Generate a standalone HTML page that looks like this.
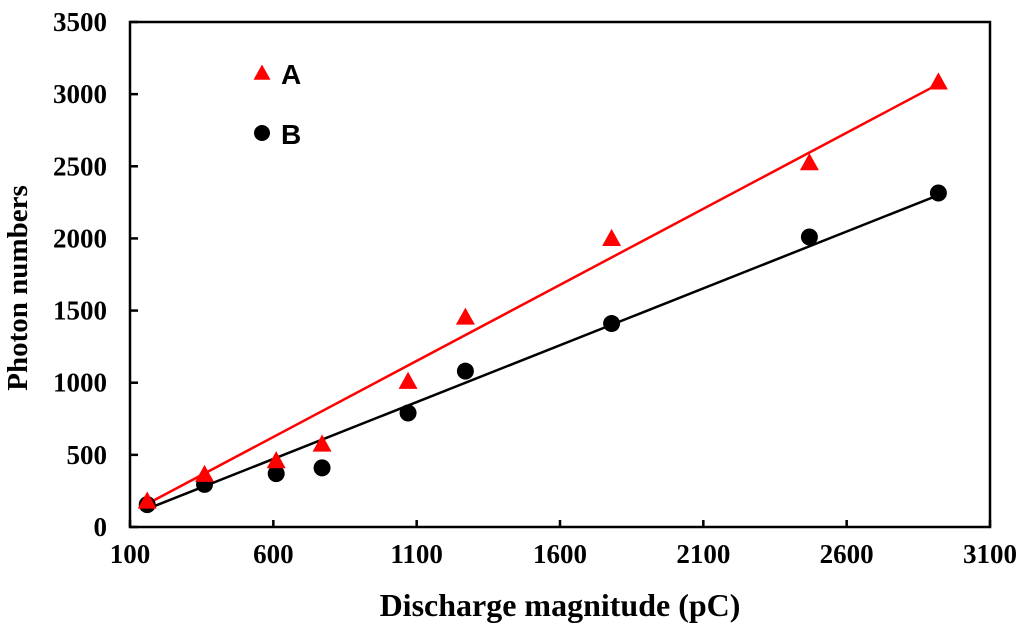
<!DOCTYPE html>
<html><head><meta charset="utf-8"><style>
body{margin:0;background:#fff;}
svg text{font-family:"Liberation Serif",serif;font-weight:bold;}
</style></head><body>
<svg id="chart" width="1024" height="627" xmlns="http://www.w3.org/2000/svg"></svg>
<script>
const xValsA=[160,360,610,770,1070,1270,1780,2470,2920];
const seriesA=[180,365,460,575,1010,1455,2000,2525,3085];
const xValsB=[160,360,610,770,1070,1270,1780,2470,2920];
const seriesB=[155,295,370,410,790,1080,1410,2010,2315];
const fitX=[160,2920];
const fitA=[160,3070];
const fitB=[125,2300];
const xTicks=[100,600,1100,1600,2100,2600,3100];
const yTicks=[0,500,1000,1500,2000,2500,3000,3500];

const L=130,R=990,T=22,B=527;
const xs=v=>L+(v-100)/3000*(R-L);
const ys=v=>B-v/3500*(B-T);
const svg=document.getElementById('chart');
const NS='http://www.w3.org/2000/svg';
function mk(tag,attrs,parent){const e=document.createElementNS(NS,tag);for(const k in attrs)e.setAttribute(k,attrs[k]);(parent||svg).appendChild(e);return e;}

const frame=mk('rect',{x:L,y:T,width:R-L,height:B-T,fill:'none',stroke:'#000','stroke-width':2.5});



xTicks.forEach(v=>{
  const t=mk('line',{x1:xs(v),x2:xs(v),y1:B,y2:B-7,stroke:'#000','stroke-width':2.5});
  
  
  const l=mk('text',{x:xs(v),y:563,'text-anchor':'middle','font-size':27});
  l.textContent=v;
  
  
});
yTicks.forEach(v=>{
  const t=mk('line',{x1:L,x2:L+8,y1:ys(v),y2:ys(v),stroke:'#000','stroke-width':2.5});
  
  
  const l=mk('text',{x:107,y:ys(v)+9,'text-anchor':'end','font-size':27});
  l.textContent=v;
  
  
});

function drawFit(yv,color,name){
  const ln=mk('line',{x1:xs(fitX[0]),y1:ys(yv[0]),x2:xs(fitX[1]),y2:ys(yv[1]),stroke:color,'stroke-width':2.5});
  
  
}
drawFit(fitB,'#000','trendline-b');
drawFit(fitA,'#f00','trendline-a');

function tri(cx,cy,s){return `${cx},${cy-s} ${cx-s},${cy+s*0.8} ${cx+s},${cy+s*0.8}`;}
xValsB.forEach((x,i)=>{
  const c=mk('circle',{cx:xs(x),cy:ys(seriesB[i]),r:8.5,fill:'#000'});
  
  
});
xValsA.forEach((x,i)=>{
  const p=mk('polygon',{points:tri(xs(x),ys(seriesA[i]),9.5),fill:'#f00'});
  
  
});

const lg=mk('g',{});


const la=mk('polygon',{points:tri(262,73,8.5),fill:'#f00'},lg);


const ta=mk('text',{x:281,y:84,'font-size':28,style:'font-family:"Liberation Sans",sans-serif'},lg);
ta.textContent='A';


const lb=mk('circle',{cx:262,cy:133,r:8,fill:'#000'},lg);


const tb=mk('text',{x:281,y:144,'font-size':28,style:'font-family:"Liberation Sans",sans-serif'},lg);
tb.textContent='B';



const xt=mk('text',{x:560,y:616,'text-anchor':'middle','font-size':32});
xt.textContent='Discharge magnitude (pC)';


const yt=mk('text',{x:0,y:0,'text-anchor':'middle','font-size':29,transform:'translate(27,288) rotate(-90)'});
yt.textContent='Photon numbers';


</script>
</body></html>
